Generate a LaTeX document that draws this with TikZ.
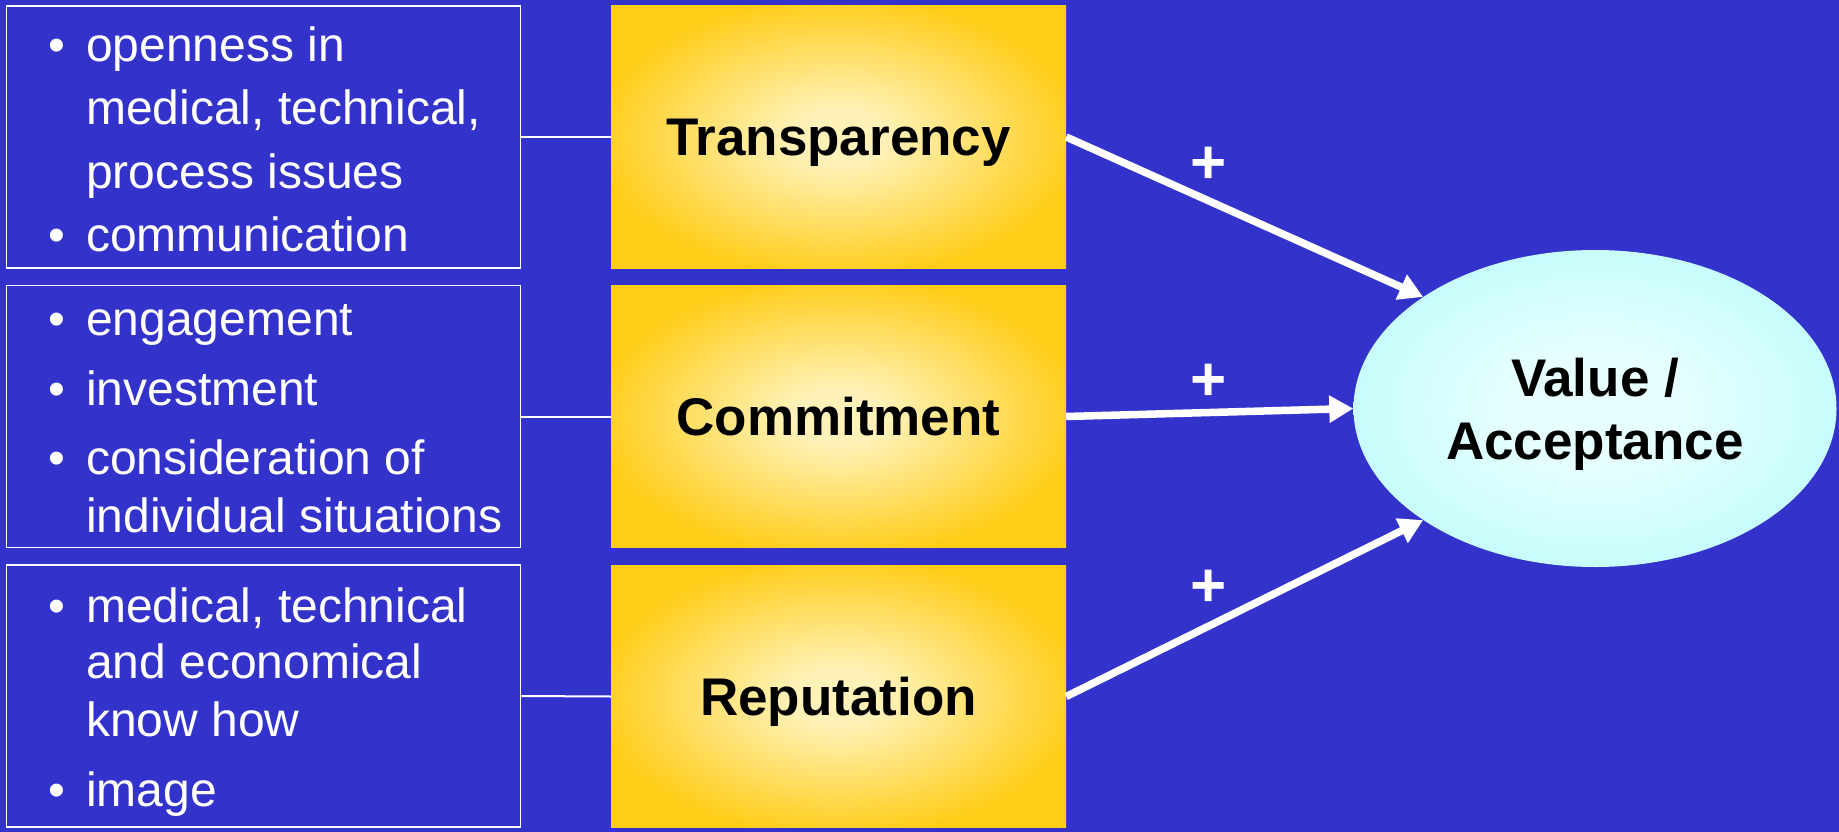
\documentclass[tikz,border=0pt]{standalone}
\usepackage{fontspec}
\setmainfont{Liberation Sans}
\usetikzlibrary{arrows.meta,shapes.geometric}
\definecolor{bgblue}{RGB}{51,51,204}
\definecolor{ydark}{RGB}{255,204,22}
\definecolor{ylight}{RGB}{255,242,185}
\definecolor{cdark}{RGB}{200,252,252}
\definecolor{clight}{RGB}{232,255,255}
\pgfdeclareradialshading{yglow}{\pgfpoint{0bp}{0bp}}{color(0bp)=(ylight); color(5bp)=(ylight); color(27bp)=(ydark); color(50bp)=(ydark)}
\pgfdeclareradialshading{cglow}{\pgfpoint{0bp}{0bp}}{color(0bp)=(clight); color(8bp)=(clight); color(25bp)=(cdark); color(50bp)=(cdark)}
\newcommand{\bitem}[3]{\node[txt] (#1b) at (48,#2) {•}; \node[txt] (#1) at (86,#2) {#3};}
\newcommand{\citem}[3]{\node[txt] (#1) at (86,#2) {#3};}
\begin{document}
\begin{tikzpicture}[x=1pt,y=-1pt,
  lbox/.style={draw=white, line width=1.5pt, inner sep=0pt, minimum width=514pt, minimum height=262pt},
  txt/.style={anchor=base west, inner sep=0pt, text=white, font=\fontsize{48}{57}\selectfont},
  ybox/.style={shade, shading=yglow, inner sep=0pt, minimum width=455pt, minimum height=262pt,
    text height=38pt, text depth=0pt, font=\fontsize{53}{63}\selectfont\bfseries},
  thinline/.style={draw=white, line width=2pt},
  bigarrow/.style={draw=white, line width=7.5pt, -{Triangle[length=24pt,width=26pt]}},
  plussign/.style={text=white, inner sep=0pt, font=\fontsize{62}{70}\selectfont\bfseries}]
\useasboundingbox (0,0) rectangle (1839,832);
\fill[bgblue] (0,0) rectangle (1839,832);
% left boxes
\node[lbox] (b1) at (263.5,137) {};
\node[lbox] (b2) at (263.5,416.5) {};
\node[lbox] (b3) at (263.5,696) {};
% texts box 1
\bitem{t1a}{62}{openness in}
\citem{t1b}{125}{medical, technical,}
\citem{t1c}{188}{process issues}
\bitem{t1d}{251}{communication}
% texts box 2
\bitem{t2a}{335}{engagement}
\bitem{t2b}{405}{investment}
\bitem{t2c}{474}{consideration of}
\citem{t2d}{532}{individual situations}
% texts box 3
\bitem{t3a}{622}{medical, technical}
\citem{t3b}{678}{and economical}
\citem{t3c}{736}{know how}
\bitem{t3d}{806}{image}
% yellow boxes
\node[ybox] (tr) at (838.5,137) {Transparency};
\node[ybox] (com) at (838.5,416.5) {Commitment};
\node[ybox] (rep) at (838.5,696.5) {Reputation};
% ellipse
\node[ellipse, shade, shading=cglow, inner sep=0pt, minimum width=483pt, minimum height=317pt,
  align=center, font=\fontsize{53}{63}\selectfont\bfseries] (val) at (1595,408.5) {\rule{0pt}{50pt}Value /\\Acceptance};
% connectors
\draw[thinline] (b1.east) -- (tr.west);
\draw[thinline] (b2.east) -- (com.west);
\draw[thinline] (b3.east) -- (rep.west);
\draw[bigarrow] (tr.east) -- (val.147);
\draw[bigarrow] (com.east) -- (val.west);
\draw[bigarrow] (rep.east) -- (val.213);
% plus signs
\node[plussign] (p1) at (1209,165) {+};
\node[plussign] (p2) at (1209,382) {+};
\node[plussign] (p3) at (1209,588) {+};
\end{tikzpicture}
\end{document}
